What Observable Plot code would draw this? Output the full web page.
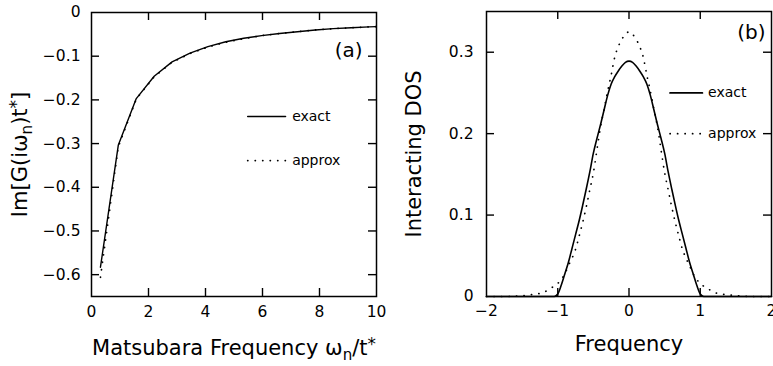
<!DOCTYPE html>
<html><head><meta charset="utf-8">
<script src="https://cdn.jsdelivr.net/npm/d3@7"></script>
<script src="https://cdn.jsdelivr.net/npm/@observablehq/plot@0.6"></script>
<style>
html,body{margin:0;padding:0;background:#fff;}
#wrap{position:relative;width:773px;height:366px;overflow:hidden;background:#fff;}
#wrap > div, #wrap > svg{position:absolute;top:0;}
</style></head><body><div id="wrap"></div>
<script>
// ---------- Panel (a): Im G(i w_n) on Matsubara frequencies ----------
const matsubaraFreq = [0.314, 0.942, 1.571, 2.199, 2.827, 3.456, 4.084, 4.712, 5.341, 5.969, 6.597, 7.226, 7.854, 8.482, 9.111, 9.739, 10.367];
const imGExact  = [-0.583, -0.303, -0.197, -0.146, -0.113, -0.093, -0.078, -0.067, -0.059, -0.053, -0.048, -0.044, -0.040, -0.037, -0.035, -0.033, -0.031];
const imGApprox = [-0.606, -0.307, -0.198, -0.147, -0.114, -0.094, -0.079, -0.068, -0.060, -0.053, -0.048, -0.044, -0.040, -0.037, -0.035, -0.033, -0.031];
const xTickLabelsA = [0, 2, 4, 6, 8, 10];
const yTickLabelsA = [0, -0.1, -0.2, -0.3, -0.4, -0.5, -0.6];
const xInnerTicksA = [2, 4, 6, 8];
const yInnerTicksA = [-0.1, -0.2, -0.3, -0.4, -0.5, -0.6];

// ---------- Panel (b): interacting DOS ----------
const freqExact = [-2, -1.05, -1.0, -0.95, -0.9, -0.85, -0.8, -0.75, -0.7, -0.65, -0.6, -0.55, -0.5, -0.45, -0.4, -0.35, -0.3, -0.25, -0.2, -0.15, -0.1, -0.05, 0,
                   0.05, 0.1, 0.15, 0.2, 0.25, 0.3, 0.35, 0.4, 0.45, 0.5, 0.55, 0.6, 0.65, 0.7, 0.75, 0.8, 0.85, 0.9, 0.95, 1.0, 1.05, 2];
const dosExact  = [0, 0, 0.003, 0.014, 0.028, 0.042, 0.059, 0.076, 0.093, 0.112, 0.132, 0.153, 0.176, 0.194, 0.211, 0.229, 0.247, 0.261, 0.270, 0.277, 0.283, 0.2875, 0.289,
                   0.2875, 0.283, 0.277, 0.270, 0.261, 0.247, 0.229, 0.211, 0.194, 0.176, 0.153, 0.132, 0.112, 0.093, 0.076, 0.059, 0.042, 0.028, 0.014, 0.003, 0, 0];
const freqApprox = [-2, -1.7, -1.6, -1.5, -1.4, -1.3, -1.2, -1.1, -1.0, -0.95, -0.9, -0.85, -0.8, -0.75, -0.7, -0.65, -0.6, -0.55, -0.5, -0.45, -0.4, -0.35, -0.3, -0.25, -0.2, -0.15, -0.1, -0.05, 0,
                    0.05, 0.1, 0.15, 0.2, 0.25, 0.3, 0.35, 0.4, 0.45, 0.5, 0.55, 0.6, 0.65, 0.7, 0.75, 0.8, 0.85, 0.9, 0.95, 1.0, 1.1, 1.2, 1.3, 1.4, 1.5, 1.6, 1.7, 2];
const dosApprox  = [0, 0, 0.0005, 0.001, 0.002, 0.003, 0.005, 0.010, 0.016, 0.021, 0.028, 0.038, 0.047, 0.058, 0.074, 0.091, 0.110, 0.131, 0.152, 0.180, 0.208, 0.230, 0.252, 0.272, 0.294, 0.307, 0.316, 0.322, 0.325,
                    0.322, 0.316, 0.307, 0.294, 0.272, 0.252, 0.230, 0.208, 0.180, 0.152, 0.131, 0.110, 0.091, 0.074, 0.058, 0.047, 0.038, 0.028, 0.021, 0.016, 0.010, 0.005, 0.003, 0.002, 0.001, 0.0005, 0, 0];
const xTickLabelsB = [-2, -1, 0, 1, 2];
const yTickLabelsB = [0, 0.1, 0.2, 0.3];
const xInnerTicksB = [-1, 0, 1];
const yInnerTicksB = [0.1, 0.2, 0.3];

// legend anchors (data units of each panel)
const legendA = {x1: 5.48, x2: 6.81, xText: 7.04, yExact: -0.238, yApprox: -0.339};
const legendB = {x1: 0.576, x2: 1.03, xText: 1.11, yExact: 0.25, yApprox: 0.20};

const H = 366;
const FONT = "'DejaVu Sans', sans-serif";
const TICK = 8;
const solid = {stroke: "black", strokeWidth: 1.4};
const dotted = {stroke: "black", strokeWidth: 1.7, strokeDasharray: "0.2,7.3", strokeLinecap: "round"};
const fmt = d => String(d).replace("-", "\u2212");

function innerTicks(w, h, m, xt, yt) {
  const iw = w - m.left - m.right, ih = h - m.top - m.bottom;
  return [
    Plot.tickY(yt, {y: d => d, insetRight: iw - TICK, stroke: "black", strokeWidth: 1.4}),
    Plot.tickY(yt, {y: d => d, insetLeft: iw - TICK, stroke: "black", strokeWidth: 1.4}),
    Plot.tickX(xt, {x: d => d, insetTop: ih - TICK, stroke: "black", strokeWidth: 1.4}),
    Plot.tickX(xt, {x: d => d, insetBottom: ih - TICK, stroke: "black", strokeWidth: 1.4})
  ];
}

function rich(svg, plain, parts) {
  for (const t of svg.querySelectorAll("text")) {
    if (t.textContent === plain) {
      t.textContent = "";
      for (const [s, kind] of parts) {
        const ts = document.createElementNS("http://www.w3.org/2000/svg", "tspan");
        ts.textContent = s;
        if (kind === "sub") { ts.setAttribute("font-size", "72%"); ts.setAttribute("baseline-shift", "-30%"); }
        if (kind === "sup") { ts.setAttribute("font-size", "80%"); ts.setAttribute("baseline-shift", "30%"); }
        t.appendChild(ts);
      }
    }
  }
}

// ---- Panel (a)
const WA = 386;
const mA = {top: 12, right: 10, bottom: 70, left: 91};
const LABEL_A_X = "Matsubara Frequency ωn/t*";
const LABEL_A_Y = "Im[G(iωn)t*]";
const plotA = Plot.plot({
  width: WA, height: H,
  marginTop: mA.top, marginRight: mA.right, marginBottom: mA.bottom, marginLeft: mA.left,
  style: {fontFamily: FONT, fontSize: "15.5px", color: "black", background: "transparent", overflow: "visible"},
  x: {domain: [0, 10]},
  y: {domain: [-0.65, 0]},
  marks: [
    Plot.axisX({ticks: xTickLabelsA, tickSize: 0, tickPadding: 9, label: null, tickFormat: fmt}),
    Plot.axisY({ticks: yTickLabelsA, tickSize: 0, tickPadding: 11, label: null, tickFormat: fmt}),
    ...innerTicks(WA, H, mA, xInnerTicksA, yInnerTicksA),
    Plot.line(matsubaraFreq, {x: matsubaraFreq, y: imGApprox, ...dotted, clip: true}),
    Plot.line(matsubaraFreq, {x: matsubaraFreq, y: imGExact, ...solid, clip: true}),
    Plot.frame({stroke: "black", strokeWidth: 1.5}),
    Plot.line([legendA.x1, legendA.x2], {x: d => d, y: () => legendA.yExact, ...solid}),
    Plot.line([legendA.x1, legendA.x2], {x: d => d, y: () => legendA.yApprox, ...dotted}),
    Plot.text(["exact"], {x: () => legendA.xText, y: () => legendA.yExact, textAnchor: "start", fontSize: 14}),
    Plot.text(["approx"], {x: () => legendA.xText, y: () => legendA.yApprox, textAnchor: "start", fontSize: 14}),
    Plot.text(["(a)"], {frameAnchor: "top-right", dx: -14, dy: 38, lineAnchor: "middle", textAnchor: "end", fontSize: 20}),
    Plot.text([LABEL_A_X], {frameAnchor: "bottom", dy: 52, lineAnchor: "middle", textAnchor: "middle", fontSize: 21}),
    Plot.text([LABEL_A_Y], {frameAnchor: "left", dx: -71, rotate: -90, lineAnchor: "middle", textAnchor: "middle", fontSize: 21})
  ]
});
rich(plotA, LABEL_A_X, [["Matsubara Frequency ω"], ["n", "sub"], ["/t"], ["*", "sup"]]);
rich(plotA, LABEL_A_Y, [["Im[G(iω"], ["n", "sub"], [")t"], ["*", "sup"], ["]"]]);
plotA.style.left = "0px";

// ---- Panel (b)
const WB = 387;
const mB = {top: 11, right: 2, bottom: 70, left: 100};
const plotB = Plot.plot({
  width: WB, height: H,
  marginTop: mB.top, marginRight: mB.right, marginBottom: mB.bottom, marginLeft: mB.left,
  style: {fontFamily: FONT, fontSize: "15.5px", color: "black", background: "transparent", overflow: "visible"},
  x: {domain: [-2, 2]},
  y: {domain: [0, 0.35]},
  marks: [
    Plot.axisX({ticks: xTickLabelsB, tickSize: 0, tickPadding: 8, label: null, tickFormat: fmt}),
    Plot.axisY({ticks: yTickLabelsB, tickSize: 0, tickPadding: 13, label: null, tickFormat: fmt}),
    ...innerTicks(WB, H, mB, xInnerTicksB, yInnerTicksB),
    Plot.line(freqApprox, {x: freqApprox, y: dosApprox, curve: "monotone-x", ...dotted}),
    Plot.line(freqExact, {x: freqExact, y: dosExact, curve: "monotone-x", ...solid, strokeWidth: 1.6}),
    Plot.frame({stroke: "black", strokeWidth: 1.5}),
    Plot.line([legendB.x1, legendB.x2], {x: d => d, y: () => legendB.yExact, ...solid, strokeWidth: 1.8}),
    Plot.line([legendB.x1, legendB.x2], {x: d => d, y: () => legendB.yApprox, ...dotted}),
    Plot.text(["exact"], {x: () => legendB.xText, y: () => legendB.yExact, textAnchor: "start", fontSize: 14}),
    Plot.text(["approx"], {x: () => legendB.xText, y: () => legendB.yApprox, textAnchor: "start", fontSize: 14}),
    Plot.text(["(b)"], {frameAnchor: "top-right", dx: -6, dy: 21, lineAnchor: "middle", textAnchor: "end", fontSize: 20}),
    Plot.text(["Frequency"], {frameAnchor: "bottom", dy: 48, lineAnchor: "middle", textAnchor: "middle", fontSize: 21}),
    Plot.text(["Interacting DOS"], {frameAnchor: "left", dx: -72, rotate: -90, lineAnchor: "middle", textAnchor: "middle", fontSize: 21})
  ]
});
plotB.style.left = "386px";

const wrap = document.getElementById("wrap");
wrap.appendChild(plotA);
wrap.appendChild(plotB);
</script>
</body></html>
